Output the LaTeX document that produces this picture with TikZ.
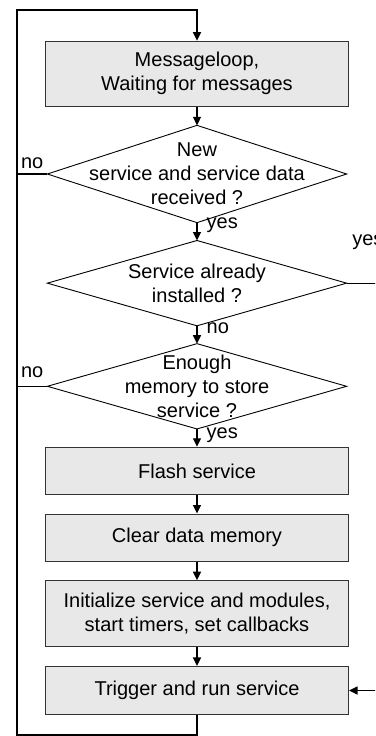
\documentclass[tikz,border=0pt]{standalone}
\usepackage{fontspec}
\setmainfont{Liberation Sans}
\usepackage{tikz}
\usetikzlibrary{matrix,arrows.meta}

\newcommand{\flowfont}{\fontsize{20pt}{24pt}\selectfont}
\definecolor{boxgray}{HTML}{E8E8E8}

\tikzset{
  box/.style={rectangle, draw=black!80, line width=1.2pt, fill=boxgray, minimum width=303pt, inner sep=0pt, align=center},
  decision/.style={rectangle, minimum width=298pt, inner sep=0pt, align=center},
  lbl/.style={anchor=west, pos=0.15, xshift=9pt, inner sep=0pt}
}

\begin{document}
\begin{tikzpicture}[every node/.style={font=\flowfont}, >={Triangle[length=8.5pt,width=8pt]}, line width=1.3pt]
  \path[use as bounding box, clip] (0,0) rectangle (375pt,-736pt);
  \matrix (m) [row sep=18.5pt, inner sep=0pt, anchor=north] at (197pt,-40pt)
  {
\node[box, minimum height=65pt] (loop) {Messageloop,\\Waiting for messages}; \\
\node[decision, minimum height=96pt] (new) {New\\service and service data\\received ?}; \\
\node[decision, minimum height=84pt] (inst) {Service already\\installed ?}; \\
\node[decision, minimum height=84pt] (mem) {Enough\\memory to store\\service ?}; \\
\node[box, minimum height=47pt] (flash) {Flash service}; \\
\node[box, minimum height=47pt] (clear) {Clear data memory}; \\
\node[box, minimum height=66pt] (init) {Initialize service and modules,\\start timers, set callbacks}; \\
\node[box, minimum height=48pt] (run) {Trigger and run service}; \\
  };
  % diamonds
  \foreach \d in {new,inst,mem}
    \draw[line width=0.9pt] (\d.north) -- (\d.east) -- (\d.south) -- (\d.west) -- cycle;
  \path[->]
  (loop) edge (new)
  (new) edge node [lbl] {yes} (inst)
  (inst) edge node [lbl, pos=0.12] {no} (mem)
  (mem) edge node [lbl, pos=0.35] {yes} (flash)
  (flash) edge (clear)
  (clear) edge (init)
  (init) edge (run)
;
  % loop back to the message loop
  \coordinate (tl) at (17pt,-10pt);
  \coordinate (bl) at (17pt,-735pt);
  \coordinate (rr) at (392pt,0pt);
  \draw[->] (run.south) |- (bl) -- (tl) -| (loop.north);
  \draw (new.west) -- node [above=1pt] {no} (new.west -| tl);
  \draw (mem.west) -- node [above=5pt] {no} (mem.west -| tl);
  \draw[->] (inst.east) -- (inst.east -| rr) |- (run.east);
  \node[anchor=west, inner sep=0pt] (yesr) at ([xshift=5pt,yshift=41pt]inst.east) {yes};
\end{tikzpicture}
\end{document}
